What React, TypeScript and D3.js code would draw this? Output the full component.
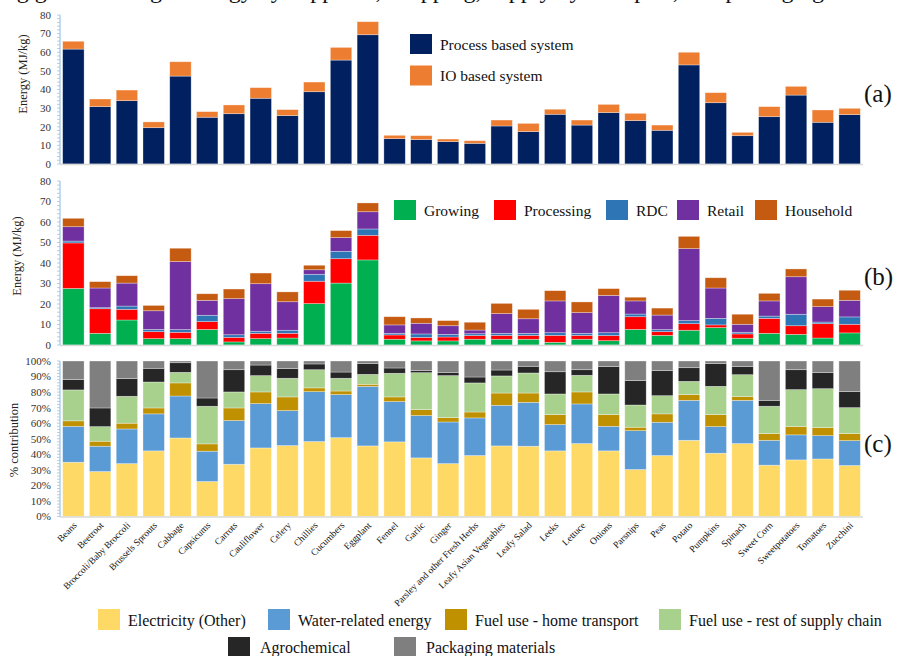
import * as d3 from 'd3';
import { useMemo } from 'react';

const FONT = '"Liberation Serif", "Times New Roman", serif';

const categories = [
    'Beans', 'Beetroot', 'Broccoli/Baby Broccoli', 'Brussels Sprouts', 'Cabbage', 'Capsicums',
    'Carrots', 'Cauliflower', 'Celery', 'Chillies', 'Cucumbers', 'Eggplant', 'Fennel', 'Garlic',
    'Ginger', 'Parsley and other Fresh Herbs', 'Leafy Asian Vegetables', 'Leafy Salad', 'Leeks',
    'Lettuce', 'Onions', 'Parsnips', 'Peas', 'Potato', 'Pumpkins', 'Spinach', 'Sweet Corn',
    'Sweetpotatoes', 'Tomatoes', 'Zucchini',
];

// (a) MJ/kg
const processBased = [61.7, 30.8, 34.0, 19.5, 47.2, 25.1, 27.0, 35.3, 26.0, 38.8, 55.8, 69.4, 13.6, 13.1, 12.0, 11.1, 20.4, 17.4, 26.7, 20.9, 27.6, 23.3, 18.1, 53.2, 32.9, 15.2, 25.4, 37.0, 22.4, 26.5];
const ioBased = [4.2, 4.1, 5.7, 3.1, 7.7, 3.0, 4.7, 5.7, 3.2, 5.2, 6.8, 7.0, 1.8, 2.1, 1.4, 1.4, 3.2, 4.4, 2.7, 2.7, 4.4, 3.9, 2.8, 6.8, 5.4, 1.8, 5.4, 4.7, 6.6, 3.4];

// (b) MJ/kg by supply chain stage
const growing = [27.6, 5.7, 12.2, 3.1, 3.1, 7.6, 1.5, 3.1, 3.4, 20.2, 30.2, 41.5, 2.8, 2.0, 2.0, 2.8, 2.8, 2.8, 1.3, 2.8, 2.1, 7.6, 4.7, 7.2, 8.5, 3.3, 5.7, 5.2, 3.4, 5.9];
const processing = [22.2, 12.0, 5.2, 3.4, 3.1, 3.8, 2.2, 2.6, 2.3, 10.9, 11.9, 12.0, 2.1, 1.7, 1.9, 1.8, 1.9, 1.9, 3.4, 1.9, 2.5, 6.2, 1.8, 3.2, 1.3, 2.1, 7.3, 4.2, 7.0, 4.2];
const rdc = [0.9, 0.5, 1.6, 1.1, 1.3, 3.1, 1.3, 1.0, 1.5, 3.4, 3.6, 3.1, 0.8, 1.7, 1.3, 0.9, 1.0, 1.0, 1.3, 1.0, 1.4, 1.3, 1.0, 1.5, 3.2, 0.8, 1.1, 5.6, 0.8, 3.6];
const retail = [7.0, 9.6, 11.2, 9.1, 33.2, 7.3, 17.6, 23.2, 13.9, 2.2, 6.7, 8.4, 4.1, 5.2, 4.2, 1.8, 9.6, 7.1, 15.5, 10.1, 18.2, 6.4, 7.1, 35.1, 14.8, 3.9, 7.4, 18.3, 7.5, 8.1];
const household = [4.1, 3.1, 3.6, 2.6, 6.5, 3.2, 4.7, 5.2, 4.8, 2.2, 3.4, 4.3, 4.0, 2.6, 2.5, 3.8, 5.0, 4.6, 5.0, 5.2, 3.3, 1.8, 3.4, 6.0, 5.0, 4.9, 3.7, 3.8, 3.7, 4.9];

// (c) % contribution
const electricity = [34.9, 28.9, 34.0, 42.2, 50.5, 22.5, 33.6, 44.1, 45.6, 48.2, 50.7, 45.4, 48.0, 37.7, 34.0, 39.2, 45.4, 45.2, 42.2, 46.9, 42.2, 30.2, 39.2, 49.0, 40.7, 46.9, 33.0, 36.4, 37.0, 32.8];
const waterEnergy = [23.1, 16.3, 22.3, 23.8, 27.0, 19.5, 28.1, 28.5, 22.5, 32.1, 27.7, 38.3, 25.9, 27.2, 26.8, 24.2, 26.1, 28.2, 16.9, 25.5, 15.8, 25.0, 21.4, 25.7, 17.1, 27.8, 16.0, 16.1, 15.0, 16.0];
const homeTransport = [3.5, 3.2, 3.7, 3.8, 8.4, 4.7, 8.1, 7.5, 8.8, 2.4, 2.3, 1.3, 3.0, 3.8, 2.8, 3.8, 7.9, 6.0, 6.4, 7.7, 7.5, 2.2, 5.4, 3.7, 7.7, 2.4, 4.3, 5.3, 5.2, 4.5];
const restOfChain = [19.9, 9.4, 17.3, 16.7, 6.8, 24.2, 10.3, 10.5, 12.0, 11.7, 8.2, 6.4, 15.2, 23.8, 27.0, 18.7, 11.0, 12.9, 13.3, 10.7, 13.3, 14.3, 11.7, 8.5, 18.2, 14.1, 17.6, 23.8, 25.0, 16.7];
const agrochemical = [6.6, 12.0, 11.4, 8.8, 6.2, 5.3, 14.3, 6.8, 6.2, 3.7, 4.0, 6.9, 3.4, 1.3, 2.1, 3.8, 3.8, 4.3, 14.3, 3.6, 17.6, 15.7, 16.1, 8.8, 14.6, 5.2, 3.8, 12.8, 10.3, 10.3];
const packaging = [12.0, 30.2, 11.3, 4.7, 1.1, 23.8, 5.6, 2.6, 4.9, 1.9, 7.1, 1.7, 4.5, 6.2, 7.3, 10.3, 5.8, 3.4, 6.9, 5.6, 3.6, 12.6, 6.2, 4.3, 1.7, 3.6, 25.3, 5.6, 7.5, 19.7];

const energyTicks = [0, 10, 20, 30, 40, 50, 60, 70, 80];
const pctTicks = [0, 10, 20, 30, 40, 50, 60, 70, 80, 90, 100];

type Series = { key: string; label: string; color: string; values: number[] };

const seriesA: Series[] = [
    { key: 'process', label: 'Process based system', color: '#002060', values: processBased },
    { key: 'io', label: 'IO based system', color: '#ED7D31', values: ioBased },
];
const seriesB: Series[] = [
    { key: 'growing', label: 'Growing', color: '#00B050', values: growing },
    { key: 'processing', label: 'Processing', color: '#FF0000', values: processing },
    { key: 'rdc', label: 'RDC', color: '#2E75B6', values: rdc },
    { key: 'retail', label: 'Retail', color: '#7030A0', values: retail },
    { key: 'household', label: 'Household', color: '#C55A11', values: household },
];
const seriesC: Series[] = [
    { key: 'elec', label: 'Electricity (Other)', color: '#FFD966', values: electricity },
    { key: 'water', label: 'Water-related energy', color: '#5B9BD5', values: waterEnergy },
    { key: 'home', label: 'Fuel use - home transport', color: '#BF9000', values: homeTransport },
    { key: 'rest', label: 'Fuel use - rest of supply chain', color: '#A9D18E', values: restOfChain },
    { key: 'agro', label: 'Agrochemical', color: '#262626', values: agrochemical },
    { key: 'pack', label: 'Packaging materials', color: '#7F7F7F', values: packaging },
];

const X0 = 60, X1 = 863;

function stackRows(series: Series[]) {
    const rows = categories.map((c, i) => {
        const r: Record<string, any> = { cat: c };
        series.forEach((s) => (r[s.key] = s.values[i]));
        return r;
    });
    return d3.stack<Record<string, any>>().keys(series.map((s) => s.key))(rows);
}

type PanelProps = {
    series: Series[];
    yMax: number;
    top: number;
    bottom: number;
    ticks: number[];
    minorStep: number;
    fmt: (v: number) => string;
    xScale: d3.ScaleBand<string>;
};

function Panel({ series, yMax, top, bottom, ticks, minorStep, fmt, xScale }: PanelProps) {
    const yScale = d3.scaleLinear().domain([0, yMax]).range([bottom, top]);
    const layers = stackRows(series);
    const minor = d3.range(0, yMax + 0.001, minorStep);
    return (
        <g>
            {layers.map((layer, li) => (
                <g key={layer.key} fill={series[li].color}>
                    {layer.map((d, i) => (
                        <rect
                            key={i}
                            x={xScale(categories[i])}
                            width={xScale.bandwidth()}
                            y={yScale(d[1])}
                            height={Math.max(0, yScale(d[0]) - yScale(d[1]))}
                            stroke="#fff"
                            strokeOpacity={0.45}
                            strokeWidth={0.7}
                        />
                    ))}
                </g>
            ))}
            <line x1={X0} x2={X1} y1={bottom + 0.5} y2={bottom + 0.5} stroke="#D9D9D9" strokeWidth={1.5} />
            <line x1={X0} x2={X0} y1={top} y2={bottom} stroke="#9DC3E6" strokeWidth={1.2} />
            {minor.map((v) => (
                <line key={v} x1={X0 - 3} x2={X0} y1={yScale(v)} y2={yScale(v)} stroke="#9DC3E6" strokeWidth={0.8} />
            ))}
            {ticks.map((v) => (
                <text
                    key={v}
                    x={X0 - 9}
                    y={yScale(v)}
                    dy="0.35em"
                    textAnchor="end"
                    fontSize={11}
                    fill="#333"
                >
                    {fmt(v)}
                </text>
            ))}
        </g>
    );
}

export default function App() {
    const xScale = useMemo(
        () => d3.scaleBand().domain(categories).range([X0, X1]).paddingInner(0.2).paddingOuter(0.1),
        []
    );

    const legendC1 = [
        { s: seriesC[0], x: 98 },
        { s: seriesC[1], x: 268 },
        { s: seriesC[2], x: 445 },
        { s: seriesC[3], x: 659 },
    ];
    const legendC2 = [
        { s: seriesC[4], x: 228 },
        { s: seriesC[5], x: 394 },
    ];
    const legendB = [394, 494, 606, 677, 755];

    return (
        <svg
            width={899}
            height={656}
            style={{ position: 'absolute', left: 0, top: 0, background: '#fff' }}
            fontFamily={FONT}
        >
            <text x={-2} y={-2} fontSize={24} fill="#111">
                ing greenhouse gas energy by suppliers, shopping, supply by transport, and packaging
            </text>

            {/* (a) */}
            <Panel series={seriesA} yMax={80} top={15} bottom={164} ticks={energyTicks} minorStep={2} fmt={(v) => `${v}`} xScale={xScale} />
            <text transform="translate(27,74) rotate(-90)" textAnchor="middle" fontSize={12.5} fill="#222">
                Energy (MJ/kg)
            </text>
            {seriesA.map((s, i) => (
                <g key={s.key}>
                    <rect x={410} y={34 + i * 31.5} width={22} height={20} fill={s.color} />
                    <text x={440} y={49.5 + i * 31.5} fontSize={15.5} fill="#111">{s.label}</text>
                </g>
            ))}
            <text x={864} y={102} fontSize={25} fill="#111">(a)</text>

            {/* (b) */}
            <Panel series={seriesB} yMax={80} top={181} bottom={345} ticks={energyTicks} minorStep={2} fmt={(v) => `${v}`} xScale={xScale} />
            <text transform="translate(21,256) rotate(-90)" textAnchor="middle" fontSize={12.5} fill="#222">
                Energy (MJ/kg)
            </text>
            {seriesB.map((s, i) => (
                <g key={s.key}>
                    <rect x={legendB[i]} y={200} width={22} height={20} fill={s.color} />
                    <text x={legendB[i] + 30} y={215.5} fontSize={15.5} fill="#111">{s.label}</text>
                </g>
            ))}
            <text x={864} y={285} fontSize={25} fill="#111">(b)</text>

            {/* (c) */}
            <Panel series={seriesC} yMax={100} top={361} bottom={516.5} ticks={pctTicks} minorStep={2} fmt={(v) => `${v}%`} xScale={xScale} />
            <text transform="translate(18,440) rotate(-90)" textAnchor="middle" fontSize={12.5} fill="#222">
                % contribution
            </text>
            <text x={864} y={452} fontSize={25} fill="#111">(c)</text>

            {categories.map((c) => (
                <text
                    key={c}
                    transform={`translate(${(xScale(c) ?? 0) + xScale.bandwidth() / 2 + 4},526) rotate(-45)`}
                    textAnchor="end"
                    fontSize={9.5}
                    fill="#111"
                >
                    {c}
                </text>
            ))}

            {legendC1.map(({ s, x }) => (
                <g key={s.key}>
                    <rect x={x} y={609} width={22} height={21} fill={s.color} />
                    <text x={x + 30} y={625.5} fontSize={16} fill="#111">{s.label}</text>
                </g>
            ))}
            {legendC2.map(({ s, x }) => (
                <g key={s.key}>
                    <rect x={x} y={637} width={22} height={21} fill={s.color} />
                    <text x={x + 32} y={652.5} fontSize={16} fill="#111">{s.label}</text>
                </g>
            ))}
        </svg>
    );
}
